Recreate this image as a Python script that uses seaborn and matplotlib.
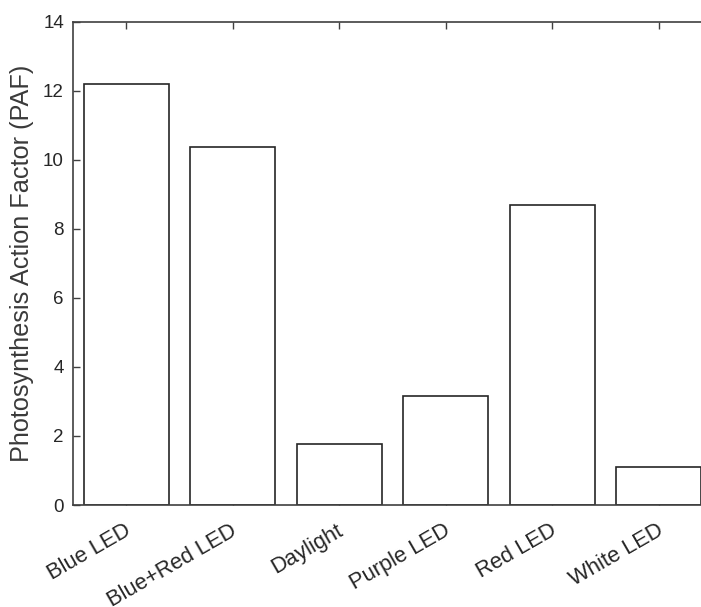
import matplotlib
matplotlib.use("Agg")
import matplotlib.pyplot as plt
import matplotlib.transforms as mtransforms
import seaborn as sns
import pandas as pd

categories = ["Blue LED", "Blue+Red LED", "Daylight", "Purple LED", "Red LED", "White LED"]
paf_values = [12.2, 10.37, 1.78, 3.17, 8.7, 1.11]
y_ticks = [0, 2, 4, 6, 8, 10, 12, 14]

df = pd.DataFrame({"cat": categories, "paf": paf_values})

sns.set_style("white")
plt.rcParams['font.family'] = ['Liberation Sans', 'DejaVu Sans']

fig = plt.figure(figsize=(7.01, 6.07), dpi=100)
W, H = 701, 607
left, right, top, bottom = 73, 712, 21.5, 505
ax = fig.add_axes([left / W, 1 - bottom / H, (right - left) / W, (bottom - top) / H])

sns.barplot(data=df, x="cat", y="paf", ax=ax, color="white", edgecolor="#262626",
            linewidth=1.2, width=0.8, saturation=1)

ax.set_xlim(-0.5, len(categories) - 0.5)
ax.set_ylim(0, 14)
ax.set_yticks(y_ticks)
ax.set_xlabel("")
ax.set_ylabel("Photosynthesis Action Factor (PAF)", fontsize=18.2, color="#3a3a3a")
ax.yaxis.set_label_coords((34 - left) / (right - left), 0.5)
ax.set_xticks(range(len(categories)))
ax.set_xticklabels(categories, rotation=30, ha="right", va="top", fontsize=15.8, color="#262626")
ax.tick_params(axis="y", labelsize=13.5, labelcolor="#262626", pad=6.5)
ax.tick_params(axis="x", pad=11)
ax.tick_params(direction="in", length=5, width=1, color="#404040",
               top=True, right=True, bottom=True, left=True)
for s in ax.spines.values():
    s.set_visible(True)
    s.set_color("#404040")
    s.set_linewidth(1.2)

offset = mtransforms.ScaledTranslation(8 / 100, 0, fig.dpi_scale_trans)
for lab in ax.xaxis.get_majorticklabels():
    lab.set_transform(lab.get_transform() + offset)

fig.savefig("out.png", dpi=100)
